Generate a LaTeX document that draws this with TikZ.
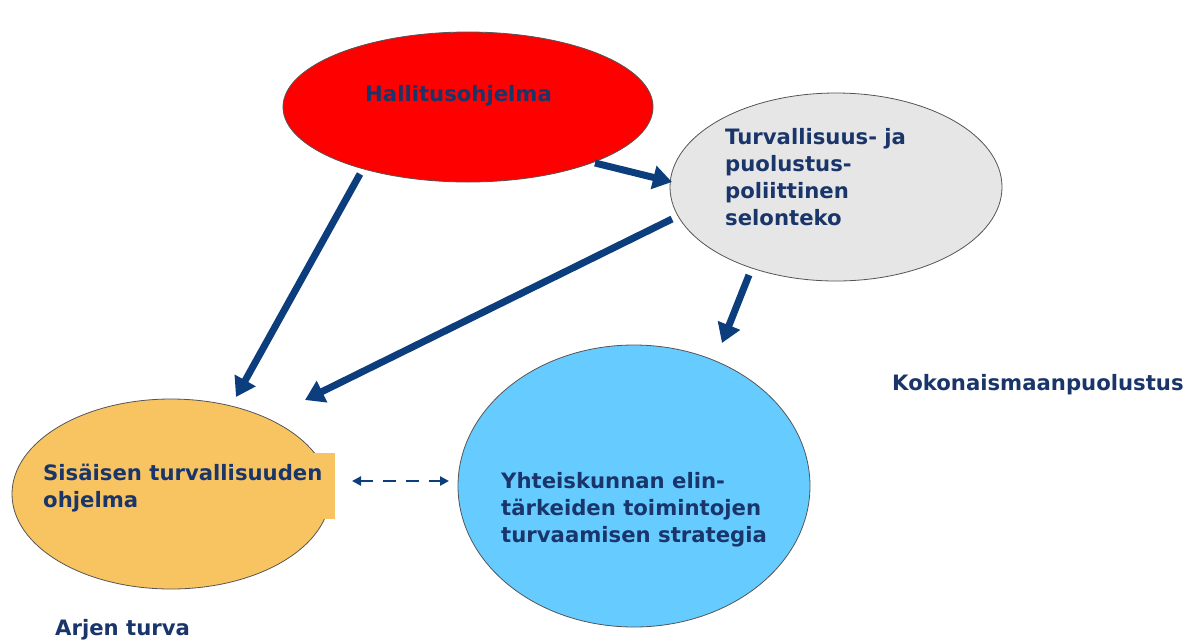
\documentclass[tikz,border=0pt]{standalone}
\usepackage{fontspec}
\setmainfont{DejaVu Sans}
\usetikzlibrary{shapes.geometric,arrows.meta}

\definecolor{navy}{HTML}{19356A}
\definecolor{arrowblue}{HTML}{0C3D7C}
\definecolor{ovalred}{HTML}{FF0000}
\definecolor{ovalgray}{HTML}{E6E6E6}
\definecolor{ovalblue}{HTML}{66CCFF}
\definecolor{ovalyellow}{HTML}{F8C462}
\definecolor{rimgray}{HTML}{555555}

\tikzset{
  oval/.style={ellipse, draw=rimgray, line width=0.8pt, inner sep=0pt},
  lbl/.style={text=navy, font=\bfseries\fontsize{21.2}{27}\selectfont,
              align=left, inner sep=0pt, anchor=north west},
  flow/.style={draw=arrowblue, line width=7pt,
               -{Triangle[width=23pt,length=19pt]}},
  link/.style={draw=arrowblue, line width=2.5pt, dash pattern=on 13pt off 10pt,
               {Triangle[width=9pt,length=9pt]}-{Triangle[width=9pt,length=9pt]}}
}

\begin{document}
\begin{tikzpicture}[x=1pt,y=-1pt]
\useasboundingbox (0,0) rectangle (1202,641);
\fill[white] (0,0) rectangle (1202,641);

% ovals
\node[oval, fill=ovalred, minimum width=370pt, minimum height=150pt] (hal) at (468,107) {};
\node[oval, fill=ovalgray, minimum width=332pt, minimum height=188pt] (sel) at (836,187) {};
\node[oval, fill=ovalblue, minimum width=352pt, minimum height=282pt] (yht) at (634,486) {};
\node[oval, fill=ovalyellow, minimum width=318pt, minimum height=190pt] (sis) at (171,494) {};
% text panel of the yellow oval, running past its rim
\fill[ovalyellow] (304,453) rectangle (335,519);

% labels
\node[lbl] (thal) at (365,85) {Hallitusohjelma};
\node[lbl] (tsel) at (725,128) {Turvallisuus- ja\\puolustus-\\poliittinen\\selonteko};
\node[lbl] (tyht) at (501,472) {Yhteiskunnan elin-\\tärkeiden toimintojen\\turvaamisen strategia};
\node[lbl] (tsis) at (43,464) {Sisäisen turvallisuuden\\ohjelma};
\node[lbl] (tarj) at (55,619) {Arjen turva};
\node[lbl] (tkok) at (892,374) {Kokonaismaanpuolustus};

% connector ends
\coordinate (h1) at (360,174);
\coordinate (s1) at (236,397);
\coordinate (h2) at (595,163);
\coordinate (g2) at (672,182);
\coordinate (g3) at (672,219);
\coordinate (s3) at (305,400);
\coordinate (g4) at (749,275);
\coordinate (y4) at (722,343);
\coordinate (s5) at (352,481);
\coordinate (y5) at (449,481);

% connectors
\draw[flow] (h1) -- (s1);
\draw[flow] (h2) -- (g2);
\draw[flow] (g3) -- (s3);
\draw[flow] (g4) -- (y4);
\draw[link] (s5) -- (y5);
\end{tikzpicture}
\end{document}
